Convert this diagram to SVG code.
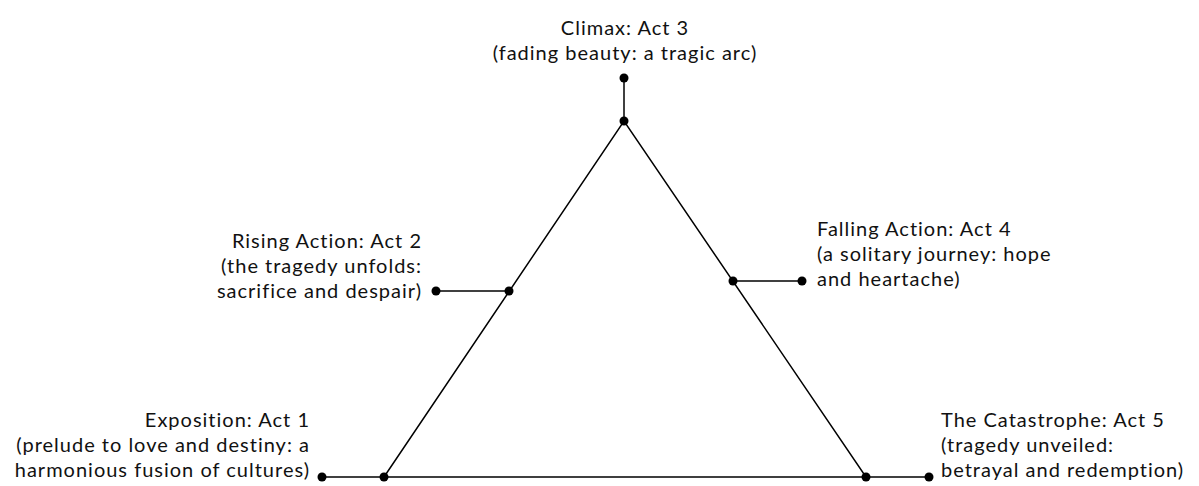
<svg xmlns="http://www.w3.org/2000/svg" width="1199" height="486" viewBox="0 0 1199 486">
<style>
text{font-family:Lato,"Open Sans",sans-serif;font-size:20px;letter-spacing:1px;fill:#111}
.l{stroke:#000;stroke-width:1.5;fill:none}
.d{fill:#000}
.r{text-anchor:end}
.m{text-anchor:middle}
</style>
<rect width="1199" height="486" fill="#fff"/>
<g id="connectors">
<path class="l" d="M384,477 L624,121 L866,477 Z"/>
<line class="l" x1="624" y1="78" x2="624" y2="121"/>
<line class="l" x1="436" y1="291" x2="509" y2="291"/>
<line class="l" x1="733" y1="281" x2="802" y2="281"/>
<line class="l" x1="322" y1="477" x2="384" y2="477"/>
<line class="l" x1="866" y1="477" x2="929" y2="477"/>
</g>
<g id="climax">
<circle class="d" cx="624" cy="121" r="4.5"/><circle class="d" cx="624" cy="78" r="4.5"/>
<text class="m" x="625" y="35">Climax: Act 3</text>
<text class="m" x="625" y="60">(fading beauty: a tragic arc)</text>
</g>
<g id="rising">
<circle class="d" cx="509" cy="291" r="4.5"/><circle class="d" cx="436" cy="291" r="4.5"/>
<text class="r" x="422" y="248">Rising Action: Act 2</text>
<text class="r" x="422" y="273">(the tragedy unfolds:</text>
<text class="r" x="422" y="298">sacrifice and despair)</text>
</g>
<g id="falling">
<circle class="d" cx="733" cy="281" r="4.5"/><circle class="d" cx="802" cy="281" r="4.5"/>
<text x="817" y="236">Falling Action: Act 4</text>
<text x="817" y="261">(a solitary journey: hope</text>
<text x="817" y="286">and heartache)</text>
</g>
<g id="exposition">
<circle class="d" cx="384" cy="477" r="4.5"/><circle class="d" cx="322" cy="477" r="4.5"/>
<text class="r" x="310" y="427">Exposition: Act 1</text>
<text class="r" x="310" y="452">(prelude to love and destiny: a</text>
<text class="r" x="310" y="477">harmonious fusion of cultures)</text>
</g>
<g id="catastrophe">
<circle class="d" cx="866" cy="477" r="4.5"/><circle class="d" cx="929" cy="477" r="4.5"/>
<text x="941" y="427">The Catastrophe: Act 5</text>
<text x="941" y="452">(tragedy unveiled:</text>
<text x="941" y="477">betrayal and redemption)</text>
</g>
</svg>
